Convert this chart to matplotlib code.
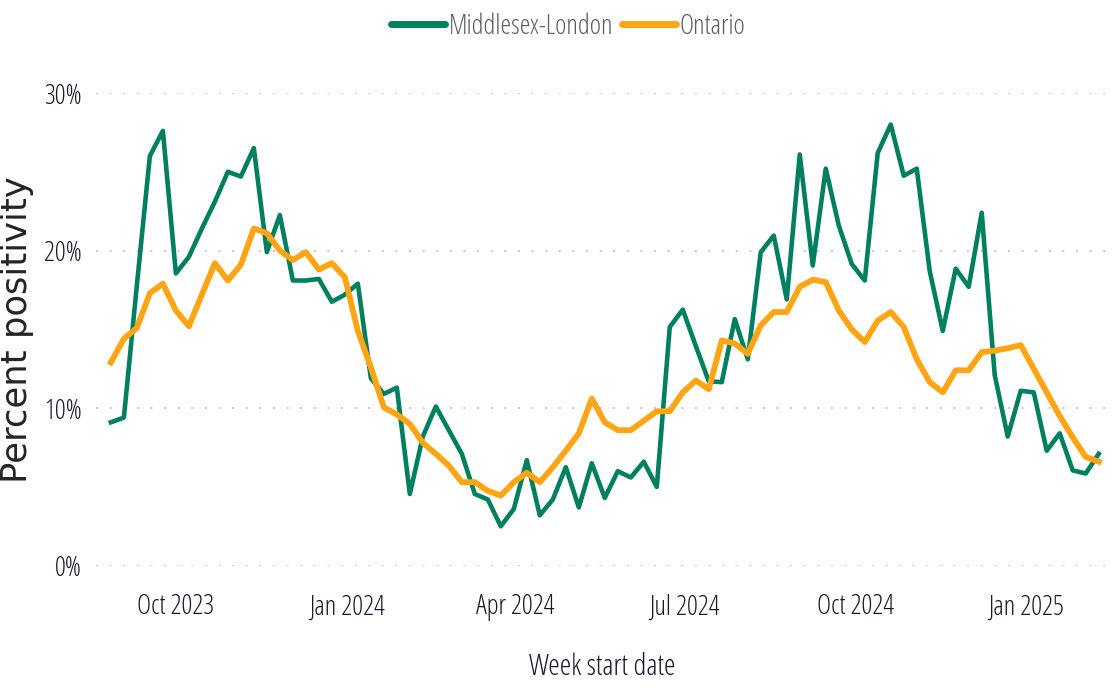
"""Weekly percent positivity: Middlesex-London vs Ontario."""

import matplotlib

matplotlib.use("Agg")
import matplotlib.dates as mdates
import matplotlib.pyplot as plt
import pandas as pd
from matplotlib.ticker import FuncFormatter, MultipleLocator

# week start dates (weekly, Sundays)
weeks = pd.date_range("2023-08-27", periods=77, freq="7D")

middlesex_london = [
    9.1, 9.4, 17.8, 26.0, 27.6, 18.55, 19.6, 21.4, 23.1, 25.0,
    24.7, 26.5, 19.9, 22.25, 18.1, 18.1, 18.2, 16.75, 17.2, 17.9,
    11.9, 10.9, 11.3, 4.55, 8.2, 10.1, 8.6, 7.1, 4.55, 4.2,
    2.5, 3.6, 6.7, 3.2, 4.2, 6.25, 3.7, 6.5, 4.3, 6.0,
    5.6, 6.6, 5.0, 15.15, 16.25, 13.95, 11.7, 11.65, 15.65, 13.1,
    19.9, 20.95, 16.9, 26.1, 19.05, 25.2, 21.6, 19.15, 18.1, 26.2,
    28.0, 24.75, 25.2, 18.7, 14.9, 18.85, 17.7, 22.4, 12.1, 8.2,
    11.1, 11.0, 7.3, 8.4, 6.05, 5.85, 7.1,
]

ontario = [
    12.9, 14.4, 15.1, 17.3, 17.9, 16.2, 15.2, 17.2, 19.2, 18.1,
    19.1, 21.4, 21.1, 20.0, 19.4, 19.9, 18.8, 19.2, 18.3, 14.9,
    12.6, 10.05, 9.6, 9.0, 7.8, 7.1, 6.35, 5.3, 5.3, 4.75,
    4.45, 5.3, 5.9, 5.3, 6.25, 7.3, 8.4, 10.6, 9.1, 8.6,
    8.6, 9.2, 9.8, 9.8, 11.0, 11.75, 11.2, 14.3, 14.1, 13.45,
    15.25, 16.1, 16.1, 17.7, 18.15, 18.0, 16.2, 15.0, 14.2, 15.55,
    16.1, 15.15, 13.1, 11.65, 11.0, 12.4, 12.4, 13.55, 13.65, 13.8,
    14.0, 12.5, 11.0, 9.5, 8.15, 6.9, 6.6,
]

tick_dates = pd.to_datetime(
    ["2023-10-01", "2024-01-01", "2024-04-01", "2024-07-01", "2024-10-01", "2025-01-01"]
)

GREEN = "#00805F"
ORANGE = "#FFA412"
# condensed light face, close to the squeezed report font
NARROW = {"family": "Open Sans", "stretch": "condensed", "weight": 300}

plt.rcParams.update({
    "figure.dpi": 100,
    "axes.spines.top": False,
    "axes.spines.right": False,
    "axes.spines.left": False,
    "axes.spines.bottom": False,
})

fig = plt.figure(figsize=(11.14, 6.93))
ax = fig.add_axes([0.0862, 0.1837, 0.9084, 0.6821])

ax.plot(weeks, middlesex_london, color=GREEN, lw=3.3, label="Middlesex-London")
ax.plot(weeks, ontario, color=ORANGE, lw=4.2, label="Ontario",
        solid_joinstyle="round")

ax.set_ylim(0, 30)
ax.set_xlim(pd.Timestamp("2023-08-19"), pd.Timestamp("2025-02-14"))
ax.yaxis.set_major_locator(MultipleLocator(10))
ax.yaxis.set_major_formatter(FuncFormatter(lambda v, _: f"{v:.0f}%"))
ax.set_xticks(tick_dates)
ax.xaxis.set_major_formatter(mdates.DateFormatter("%b %Y"))

ax.grid(axis="y", color="#C6C6C6", lw=1.4, linestyle=(0, (1, 6)))
ax.set_axisbelow(True)
ax.tick_params(length=0)
ax.tick_params(axis="y", pad=10)
ax.tick_params(axis="x", pad=20)
for lab in ax.get_xticklabels() + ax.get_yticklabels():
    lab.update(NARROW)
    lab.set_fontsize(19.5)
    lab.set_color("#141A2A")

ax.set_xlabel("Week start date", fontsize=21, color="#141A2A", labelpad=22,
              **NARROW)
ax.set_ylabel("Percent positivity", family="DejaVu Sans", fontsize=25.5,
              color="#252423")
ax.yaxis.set_label_coords(-0.061, 0.5)

leg = fig.legend(loc="upper center", bbox_to_anchor=(0.51, 1.017), ncol=2,
                 frameon=False, handlelength=2.0, handletextpad=0.15,
                 columnspacing=0.3, prop={**NARROW, "size": 19.5})
for txt in leg.get_texts():
    txt.set_color("#5A5E66")
for line in leg.get_lines():
    line.set_linewidth(5)
    line.set_solid_capstyle("round")

fig.savefig("out.png", dpi=100)
